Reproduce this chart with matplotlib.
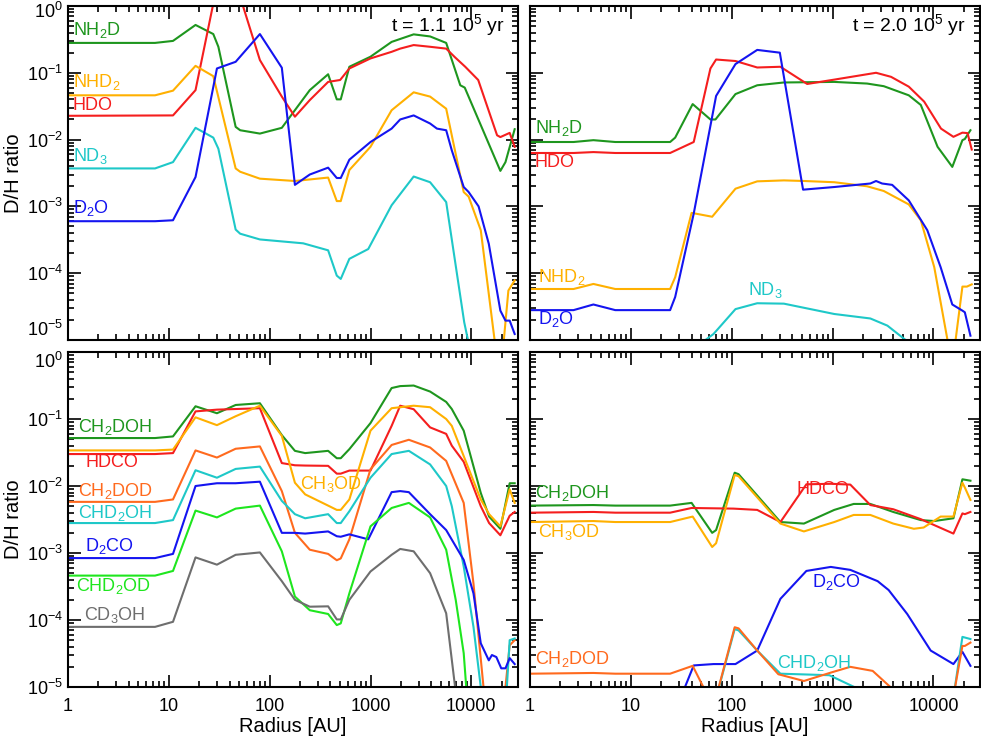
import matplotlib
matplotlib.use('Agg')

import matplotlib.pyplot as plt
from matplotlib.ticker import LogLocator, NullFormatter
from matplotlib.transforms import ScaledTranslation

plt.rcParams['font.family'] = ['Liberation Sans', 'DejaVu Sans']
plt.rcParams['mathtext.fontset'] = 'custom'
plt.rcParams['mathtext.rm'] = 'Liberation Sans'
plt.rcParams['mathtext.it'] = 'Liberation Sans'
plt.rcParams['mathtext.default'] = 'regular'

# colours (IDL-like)
GREEN = '#1e961e'
RED = '#f51e1e'
GOLD = '#ffb000'
CYAN = '#1ec8c8'
BLUE = '#1414f0'
ORANGE = '#ff6a1e'
LIME = '#1ee61e'
GREY = '#6e6e6e'

# ---- t = 1.1e5 yr, water / ammonia ----
r_a_nh2d = [1, 7.3, 11, 18.4, 27.6, 31, 46, 51, 80, 132, 250, 380, 463, 507, 617, 1000, 1620, 2680, 3900,
            5630, 7770, 8600, 19400, 21800, 26900]
a_nh2d = [0.28, 0.28, 0.30, 0.52, 0.38, 0.245, 0.0155, 0.0138, 0.0123, 0.015, 0.055, 0.095, 0.04, 0.04, 0.123,
          0.174, 0.29, 0.376, 0.35, 0.28, 0.065, 0.06, 0.0034, 0.0046, 0.0143]
r_a_hdo = [1, 11, 18.4, 30, 50, 80, 132, 178, 250, 380, 500, 617, 1000, 1620, 1970, 2680, 3900, 5630, 6900,
           8700, 11700, 18000, 19400, 24000, 26900]
a_hdo = [0.0227, 0.023, 0.055, 2.0, 1.5, 0.155, 0.044, 0.022, 0.039, 0.073, 0.078, 0.116, 0.164, 0.206, 0.23,
         0.26, 0.245, 0.23, 0.17, 0.123, 0.078, 0.0116, 0.0109, 0.0126, 0.0078]
r_a_nhd2 = [1, 7.3, 11, 18.4, 27.6, 46, 51, 80, 178, 380, 463, 507, 617, 1000, 1620, 2680, 3900, 5630, 8400,
            9400, 12400, 17000, 19400, 21000, 23300, 26900]
a_nhd2 = [0.046, 0.046, 0.054, 0.127, 0.089, 0.0037, 0.0033, 0.0026, 0.0024, 0.0027, 0.0012, 0.0012, 0.0035,
          0.0078, 0.0275, 0.051, 0.044, 0.029, 0.00164, 0.0014, 0.00044, 1e-5, 5e-6, 1e-5, 5.5e-5, 7.8e-5]
r_a_nd3 = [1, 7.3, 11, 18.4, 27.6, 31, 46, 51, 80, 215, 380, 463, 507, 617, 950, 1620, 2680, 3900, 5630,
           8500, 9400, 10500]
a_nd3 = [0.0037, 0.0037, 0.0046, 0.015, 0.0107, 0.0073, 0.00045, 0.00039, 0.00032, 0.00028, 0.00022, 9.2e-5,
         8.2e-5, 0.000164, 0.00023, 0.00104, 0.0028, 0.0023, 0.00116, 1.84e-5, 9e-6, 2e-6]
r_a_d2o = [1, 7.3, 11, 18.4, 30, 46, 80, 132, 178, 250, 380, 463, 507, 617, 1000, 1620, 1970, 2680, 3900,
           4560, 5630, 6400, 8400, 9400, 11800, 14900, 19400, 21800, 24000, 26900]
a_d2o = [0.0006, 0.0006, 0.00062, 0.00275, 0.116, 0.146, 0.38, 0.119, 0.0021, 0.003, 0.0038, 0.00266,
         0.00266, 0.005, 0.0092, 0.0146, 0.02, 0.023, 0.0174, 0.0146, 0.0138, 0.0069, 0.00195, 0.00164, 0.001,
         0.000275, 2.75e-5, 1.95e-5, 1.95e-5, 1.23e-5]

# ---- t = 2.0e5 yr, water / ammonia ----
r_b_nh2d = [1, 2.7, 4.25, 7, 24.5, 27.5, 41, 61.5, 69, 109, 179, 329, 1040, 2200, 3220, 5700, 7500, 11000,
            15400, 19400, 20500, 23300]
b_nh2d = [0.0092, 0.0092, 0.0098, 0.0092, 0.0092, 0.0107, 0.034, 0.02, 0.02, 0.048, 0.065, 0.0716, 0.073,
          0.069, 0.063, 0.046, 0.033, 0.0078, 0.0039, 0.0098, 0.0102, 0.0138]
r_b_hdo = [1, 2.7, 4.25, 7, 24.5, 42, 61.5, 70, 109, 179, 304, 560, 1040, 2700, 3800, 5700, 8100, 11900,
           15800, 19400, 21800, 24000]
b_hdo = [0.0063, 0.0063, 0.0065, 0.0063, 0.0063, 0.0092, 0.116, 0.158, 0.15, 0.12, 0.123, 0.068, 0.079, 0.1,
         0.087, 0.062, 0.037, 0.0146, 0.011, 0.0127, 0.0125, 0.0071]
r_b_nhd2 = [1, 2.7, 4.25, 7, 24.5, 27.5, 40, 64, 109, 179, 329, 520, 1040, 2200, 3220, 5700, 7500, 10200,
            13800, 15200, 16600, 19400, 21500, 24000]
b_nhd2 = [5.8e-5, 5.8e-5, 6.9e-5, 5.8e-5, 5.8e-5, 8.7e-5, 0.0008, 0.0007, 0.00184, 0.00237, 0.00245, 0.0024,
          0.0023, 0.002, 0.0017, 0.00107, 0.00062, 0.000123, 1e-5, 6e-6, 1e-5, 6.3e-5, 6.3e-5, 6.8e-5]
r_b_d2o = [1, 2.7, 4.25, 7, 24.5, 27.5, 42, 70, 109, 179, 300, 510, 1040, 2370, 2700, 3100, 3900, 5700, 8700,
           11800, 15400, 19400, 20500, 23300]
b_d2o = [2.8e-5, 2.8e-5, 3.4e-5, 2.8e-5, 2.8e-5, 4.4e-5, 0.00078, 0.045, 0.135, 0.22, 0.2, 0.00178, 0.00195,
         0.0022, 0.0024, 0.0022, 0.0021, 0.00123, 0.00044, 0.000123, 3.4e-5, 2.75e-5, 2.6e-5, 1.16e-5]
r_b_nd3 = [40, 66, 109, 179, 329, 1040, 2370, 3500, 5300, 6000]
b_nd3 = [7e-6, 1.23e-5, 2.9e-5, 3.55e-5, 3.5e-5, 2.45e-5, 2.1e-5, 1.64e-5, 1e-5, 7e-6]

# ---- t = 1.1e5 yr, formaldehyde / methanol ----
r_c = [1, 7.3, 11, 18.4, 30, 46, 80, 132, 178, 225, 380, 463, 507, 617, 1000, 1620, 1970, 2680, 3900, 5630,
       6400, 8400, 12400, 15000, 19400, 24000, 26900]
c_ch2doh = [0.052, 0.052, 0.055, 0.155, 0.122, 0.162, 0.172, 0.0575, 0.0335, 0.031, 0.0335, 0.026, 0.026,
            0.0355, 0.087, 0.29, 0.31, 0.316, 0.257, 0.18, 0.141, 0.067, 0.0079, 0.0035, 0.0023, 0.011, 0.011]
c_hdco = [0.030, 0.030, 0.031, 0.13, 0.138, 0.141, 0.145, 0.022, 0.0204, 0.0202, 0.02, 0.0153, 0.0153, 0.017,
          0.017, 0.079, 0.158, 0.14, 0.075, 0.06, 0.04, 0.023, 0.005, 0.0028, 0.00184, 0.0036, 0.0041]
c_ch3od = [0.034, 0.034, 0.035, 0.106, 0.081, 0.11, 0.158, 0.056, 0.0112, 0.0075, 0.0051, 0.0044, 0.0044,
           0.0063, 0.067, 0.145, 0.15, 0.158, 0.15, 0.1, 0.079, 0.028, 0.0063, 0.0038, 0.0025, 0.0089, 0.0056]
c_d2co_r = [1, 7.3, 11, 18.4, 30, 46, 80, 132, 178, 225, 380, 463, 507, 617, 950, 1620, 1970, 2400, 3900, 5630,
            8400, 10500, 12400, 14900, 16000, 17700, 19800, 21800, 24000, 26900]
c_d2co = [0.00084, 0.00084, 0.00097, 0.01, 0.011, 0.011, 0.0116, 0.002, 0.002, 0.00195, 0.0021, 0.00178,
          0.00175, 0.0019, 0.0016, 0.0081, 0.0084, 0.0081, 0.0038, 0.0022, 0.00079, 0.00025, 4.5e-5, 2.5e-5,
          3e-5, 2.8e-5, 1.9e-5, 1.9e-5, 2.7e-5, 2.2e-5]
c_ch2dod_r = [1, 7.3, 11, 18.4, 30, 46, 80, 132, 178, 250, 380, 463, 507, 617, 1000, 1620, 2400, 3900, 5630,
              8400, 10500, 13200, 17000, 21800, 24000, 26900]
c_ch2dod = [0.0058, 0.0058, 0.0063, 0.034, 0.0266, 0.036, 0.039, 0.0084, 0.002, 0.00112, 0.00097, 0.00078,
            0.00083, 0.0016, 0.0178, 0.041, 0.049, 0.0376, 0.0237, 0.0056, 0.00035, 1e-5, 1e-7, 1e-5, 4.2e-5,
            5e-5]
c_chd2oh_r = [1, 7.3, 11, 18.4, 30, 46, 80, 132, 178, 225, 380, 463, 507, 617, 1000, 1620, 2400, 3900, 5630,
              6400, 8400, 10500, 12400, 17000, 22500, 24000, 26900]
c_chd2oh = [0.0028, 0.0028, 0.0031, 0.0172, 0.0133, 0.018, 0.0195, 0.006, 0.0038, 0.0033, 0.0038, 0.0028,
            0.0028, 0.0042, 0.0133, 0.03, 0.0335, 0.021, 0.01, 0.005, 0.00063, 7.9e-5, 1e-5, 1e-7, 1e-5, 5e-5,
            5.3e-5]
c_chd2od_r = [1, 7.3, 11, 18.4, 30, 46, 80, 132, 178, 250, 380, 463, 507, 617, 1000, 1620, 2400, 3900, 5630,
              7000, 8400, 8900, 10000]
c_chd2od = [0.00046, 0.00046, 0.00054, 0.0043, 0.0034, 0.0046, 0.0051, 0.00106, 0.000224, 0.00014, 0.000123,
            8.4e-5, 8.9e-5, 0.00025, 0.0025, 0.0047, 0.0056, 0.0034, 0.00112, 0.0002, 3.2e-5, 1e-5, 1e-6]
c_cd3oh_r = [1, 7.3, 11, 18.4, 30, 46, 80, 132, 178, 250, 380, 463, 507, 617, 1000, 1620, 1970, 2680, 3900,
             5630, 6900, 7800]
c_cd3oh = [7.9e-5, 7.9e-5, 9.4e-5, 0.00086, 0.00067, 0.00094, 0.00102, 0.00038, 0.0002, 0.000158, 0.00016,
           0.000102, 0.000102, 0.0002, 0.00053, 0.00094, 0.00115, 0.00106, 0.0005, 0.000126, 1e-5, 1e-6]

# ---- t = 2.0e5 yr, formaldehyde / methanol ----
r_d_ch2doh = [1, 4.25, 7, 24.5, 40, 64, 70, 107, 117, 304, 520, 1040, 1620, 2370, 4000, 7500, 10200, 15800,
              19400, 23300]
d_ch2doh = [0.0051, 0.0052, 0.0051, 0.0051, 0.0056, 0.002, 0.0022, 0.0158, 0.015, 0.0029, 0.00275, 0.0044,
            0.0054, 0.0054, 0.0041, 0.0031, 0.003, 0.0033, 0.0126, 0.012]
r_d_hdco = [1, 4.25, 7, 24.5, 40, 104, 179, 304, 550, 960, 1500, 2370, 4000, 7500, 15800, 19400, 20500, 23300]
d_hdco = [0.004, 0.0041, 0.004, 0.004, 0.0047, 0.0046, 0.0044, 0.0029, 0.0106, 0.0108, 0.0105, 0.0052,
          0.0045, 0.0032, 0.00195, 0.0039, 0.0038, 0.0041]
r_d_ch3od = [1, 4.25, 7, 24.5, 41, 64, 70, 107, 117, 304, 520, 1040, 1620, 2370, 4000, 6400, 8000, 11800,
             15800, 19400, 20500, 23300]
d_ch3od = [0.0029, 0.003, 0.0029, 0.0029, 0.0035, 0.00123, 0.0014, 0.0146, 0.014, 0.00275, 0.0021, 0.0029,
           0.0037, 0.0037, 0.00275, 0.0023, 0.0024, 0.0035, 0.0035, 0.0112, 0.0095, 0.0062]
r_d_d2co = [30, 42, 66, 109, 179, 304, 550, 960, 1500, 2800, 3600, 5500, 9400, 15800, 19400, 23300]
d_d2co = [6e-6, 2.1e-5, 2.2e-5, 2.2e-5, 3.5e-5, 0.000207, 0.00054, 0.00062, 0.00056, 0.00038, 0.00028,
          0.000123, 3.5e-5, 2.2e-5, 3.35e-5, 2.07e-5]
r_d_ch2dod = [1, 4.25, 7, 24.5, 41, 62, 68, 107, 117, 179, 290, 520, 960, 1500, 2500, 4400, 16000, 19400,
              20500, 23300]
d_ch2dod = [1.58e-5, 1.62e-5, 1.58e-5, 1.58e-5, 2.07e-5, 6e-6, 6e-6, 7.8e-5, 7.5e-5, 3.5e-5, 1.55e-5,
            1.23e-5, 1.64e-5, 2e-5, 1.74e-5, 8e-6, 8e-6, 4.1e-5, 4.1e-5, 4.6e-5]
r_d_chd2oh = [72, 107, 117, 179, 304, 930, 1900, 16000, 19400, 23300]
d_chd2oh = [8e-6, 7.3e-5, 7e-5, 3.5e-5, 1.58e-5, 1.5e-5, 9e-6, 8e-6, 5.6e-5, 5.2e-5]

y_ticks = [1e-5, 1e-4, 1e-3, 1e-2, 1e-1, 1]
y_ticklabels = ['10$^{-5}$', '10$^{-4}$', '10$^{-3}$', '10$^{-2}$', '10$^{-1}$', '10$^{0}$']
x_ticks = [1, 10, 100, 1000, 10000]
x_ticklabels = ['1', '10', '100', '1000', '10000']

LW = 1.5
FS = 13
FS_AX = 14.5


def style_axis(fig, ax, show_x, show_y, top_row):
    ax.set_xscale('log')
    ax.set_yscale('log')
    ax.set_xlim(1, 2.9e4)
    ax.set_ylim(1e-5, 1)
    ax.set_xticks(x_ticks)
    ax.set_yticks(y_ticks)
    ax.xaxis.set_minor_locator(LogLocator(base=10, subs=range(2, 10), numticks=20))
    ax.yaxis.set_minor_locator(LogLocator(base=10, subs=range(2, 10), numticks=20))
    ax.xaxis.set_minor_formatter(NullFormatter())
    ax.yaxis.set_minor_formatter(NullFormatter())
    ax.tick_params(which='both', direction='in', top=True, right=True, labelsize=FS, width=1.2)
    ax.tick_params(which='major', length=9)
    ax.tick_params(which='minor', length=4.5)
    ax.tick_params(axis='x', pad=8)
    if show_x:
        ax.set_xticklabels(x_ticklabels)
        ax.set_xlabel('Radius [AU]', fontsize=FS_AX, labelpad=1)
    else:
        ax.tick_params(labelbottom=False)
    if show_y:
        ax.set_yticklabels(y_ticklabels)
        ax.set_ylabel('D/H ratio', fontsize=FS_AX, labelpad=3)
        labs = ax.get_yticklabels()
        # IDL nudges the end labels inwards
        if top_row:
            labs[0].set_verticalalignment('bottom')
            labs[-1].set_transform(labs[-1].get_transform()
                                   + ScaledTranslation(0, -3 / 72, fig.dpi_scale_trans))
        else:
            labs[-1].set_verticalalignment('top')
    else:
        ax.tick_params(labelleft=False)
    for s in ax.spines.values():
        s.set_linewidth(1.5)


def label(ax, x, y, txt, color, ha='left', size=FS):
    ax.text(x, y, txt, color=color, fontsize=size, ha=ha, va='center', transform=ax.transAxes)


fig = plt.figure(figsize=(9.81, 7.38), dpi=100)
ax_a = fig.add_axes([0.0693, 0.5393, 0.4587, 0.4526])
ax_b = fig.add_axes([0.5403, 0.5393, 0.4587, 0.4526])
ax_c = fig.add_axes([0.0693, 0.0691, 0.4587, 0.4539])
ax_d = fig.add_axes([0.5403, 0.0691, 0.4587, 0.4539])

# panel a
ax_a.plot(r_a_nh2d, a_nh2d, color=GREEN, lw=LW)
ax_a.plot(r_a_hdo, a_hdo, color=RED, lw=LW)
ax_a.plot(r_a_nhd2, a_nhd2, color=GOLD, lw=LW)
ax_a.plot(r_a_nd3, a_nd3, color=CYAN, lw=LW)
ax_a.plot(r_a_d2o, a_d2o, color=BLUE, lw=LW)
label(ax_a, 0.011, 0.928, 'NH$_2$D', GREEN)
label(ax_a, 0.011, 0.772, 'NHD$_2$', GOLD)
label(ax_a, 0.011, 0.701, 'HDO', RED)
label(ax_a, 0.011, 0.551, 'ND$_3$', CYAN)
label(ax_a, 0.011, 0.395, 'D$_2$O', BLUE)
label(ax_a, 0.971, 0.943, 't = 1.1 10$^5$ yr', 'black', ha='right', size=14)
style_axis(fig, ax_a, False, True, True)

# panel b
ax_b.plot(r_b_nh2d, b_nh2d, color=GREEN, lw=LW)
ax_b.plot(r_b_hdo, b_hdo, color=RED, lw=LW)
ax_b.plot(r_b_nhd2, b_nhd2, color=GOLD, lw=LW)
ax_b.plot(r_b_nd3, b_nd3, color=CYAN, lw=LW)
ax_b.plot(r_b_d2o, b_d2o, color=BLUE, lw=LW)
label(ax_b, 0.011, 0.635, 'NH$_2$D', GREEN)
label(ax_b, 0.011, 0.53, 'HDO', RED)
label(ax_b, 0.018, 0.19, 'NHD$_2$', GOLD)
label(ax_b, 0.484, 0.15, 'ND$_3$', CYAN)
label(ax_b, 0.018, 0.063, 'D$_2$O', BLUE)
label(ax_b, 0.967, 0.943, 't = 2.0 10$^5$ yr', 'black', ha='right', size=14)
style_axis(fig, ax_b, False, False, True)

# panel c
ax_c.plot(r_c, c_ch2doh, color=GREEN, lw=LW)
ax_c.plot(r_c, c_hdco, color=RED, lw=LW)
ax_c.plot(r_c, c_ch3od, color=GOLD, lw=LW)
ax_c.plot(c_ch2dod_r, c_ch2dod, color=ORANGE, lw=LW)
ax_c.plot(c_chd2oh_r, c_chd2oh, color=CYAN, lw=LW)
ax_c.plot(c_d2co_r, c_d2co, color=BLUE, lw=LW)
ax_c.plot(c_chd2od_r, c_chd2od, color=LIME, lw=LW)
ax_c.plot(c_cd3oh_r, c_cd3oh, color=GREY, lw=LW)
label(ax_c, 0.022, 0.776, 'CH$_2$DOH', GREEN)
label(ax_c, 0.04, 0.669, 'HDCO', RED)
label(ax_c, 0.022, 0.585, 'CH$_2$DOD', ORANGE)
label(ax_c, 0.022, 0.519, 'CHD$_2$OH', CYAN)
label(ax_c, 0.038, 0.421, 'D$_2$CO', BLUE)
label(ax_c, 0.018, 0.301, 'CHD$_2$OD', LIME)
label(ax_c, 0.036, 0.215, 'CD$_3$OH', GREY)
label(ax_c, 0.516, 0.606, 'CH$_3$OD', GOLD)
style_axis(fig, ax_c, True, True, False)

# panel d
ax_d.plot(r_d_ch2doh, d_ch2doh, color=GREEN, lw=LW)
ax_d.plot(r_d_hdco, d_hdco, color=RED, lw=LW)
ax_d.plot(r_d_ch3od, d_ch3od, color=GOLD, lw=LW)
ax_d.plot(r_d_d2co, d_d2co, color=BLUE, lw=LW)
ax_d.plot(r_d_chd2oh, d_chd2oh, color=CYAN, lw=LW)
ax_d.plot(r_d_ch2dod, d_ch2dod, color=ORANGE, lw=LW)
label(ax_d, 0.011, 0.579, 'CH$_2$DOH', GREEN)
label(ax_d, 0.018, 0.463, 'CH$_3$OD', GOLD)
label(ax_d, 0.593, 0.591, 'HDCO', RED)
label(ax_d, 0.627, 0.313, 'D$_2$CO', BLUE)
label(ax_d, 0.011, 0.084, 'CH$_2$DOD', ORANGE)
label(ax_d, 0.549, 0.072, 'CHD$_2$OH', CYAN)
style_axis(fig, ax_d, True, False, False)

plt.savefig('out.png', dpi=100)
plt.close()
